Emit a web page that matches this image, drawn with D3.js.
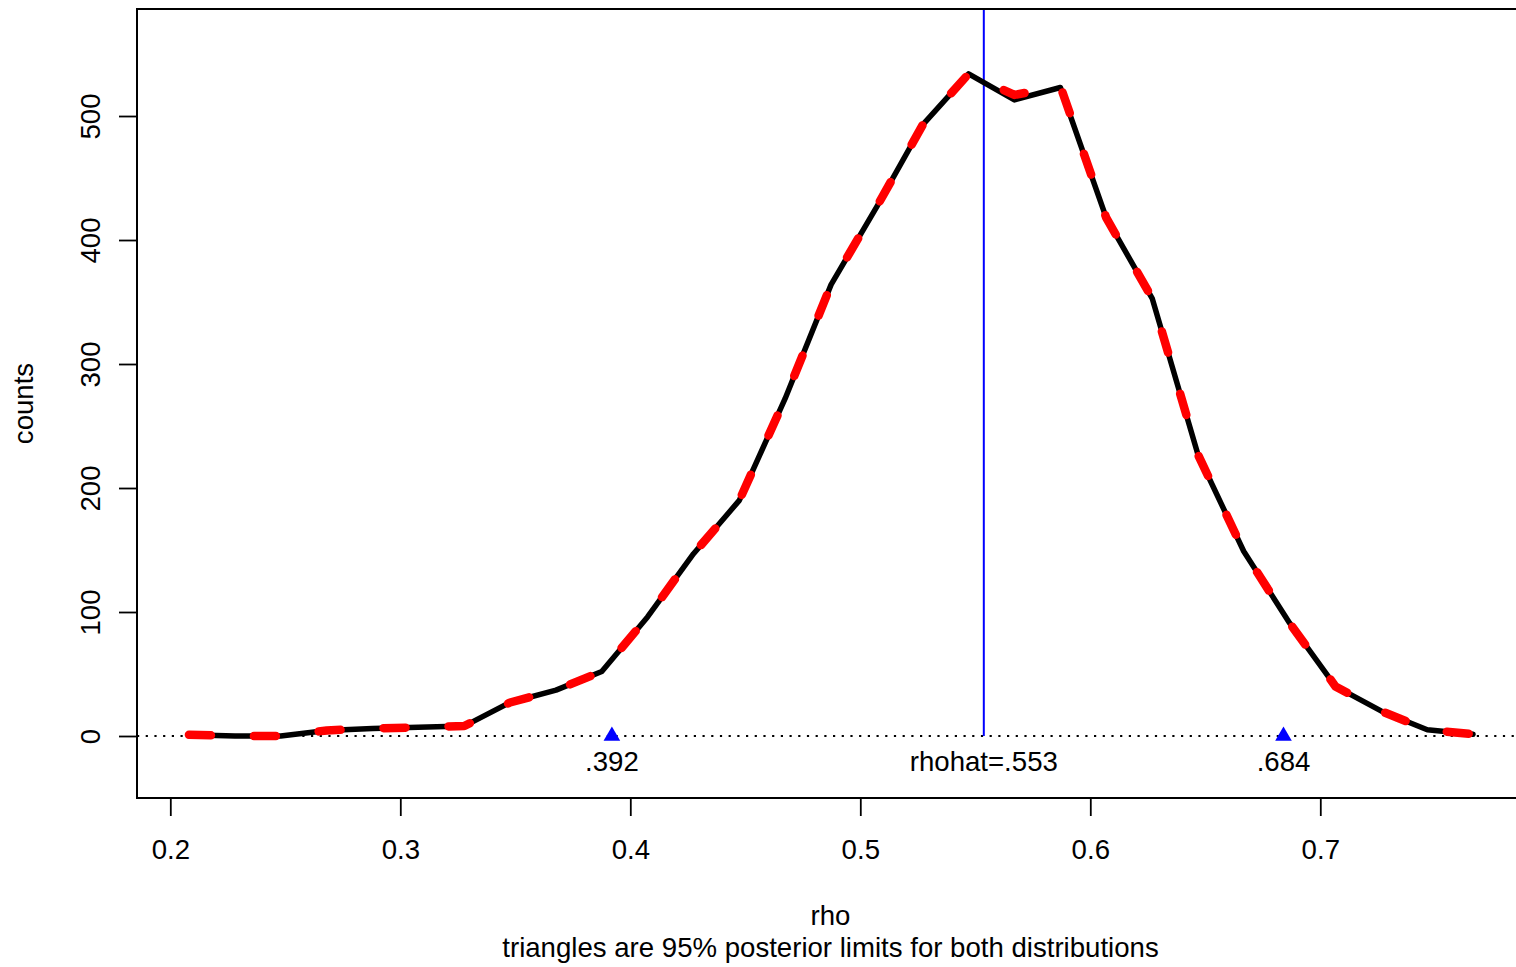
<!DOCTYPE html>
<html>
<head>
  <title>Posterior of rho</title>
  <script src="https://cdn.jsdelivr.net/npm/d3@7/dist/d3.min.js"></script>
  <style>
    body { margin: 0; background: #fff; }
    svg text {
      font-family: "Liberation Sans", Arial, Helvetica, sans-serif;
      font-size: 27.6px;
      fill: #000;
    }
  </style>
</head>
<body>
  <div id="chart"></div>

  <script>
    // bin midpoints of rho
    const rho = [0.2081, 0.2281, 0.2480, 0.2680, 0.2879, 0.3078, 0.3278, 0.3477, 0.3677, 0.3876,
                 0.4075, 0.4275, 0.4474, 0.4673, 0.4873, 0.5072, 0.5272, 0.5471, 0.5670, 0.5870,
                 0.6069, 0.6269, 0.6468, 0.6667, 0.6867, 0.7066, 0.7266, 0.7465, 0.7664];
    // counts, first distribution (solid black)
    const counts1 = [1, 0, 0, 4.5, 6, 7, 8, 27, 37, 52,
                     96, 147, 190, 272, 364, 427, 493, 534, 513, 523,
                     418, 353, 227, 149, 91, 40, 20, 5, 1.5];
    // counts, second distribution (red dashed)
    const counts2 = [1, 0, 0, 4.5, 6, 7, 8, 27, 37, 52,
                     96, 147, 190, 272, 364, 427, 493, 534, 517, 524,
                     418, 353, 227, 149, 91, 40, 20, 5, 1.5];

    const xTicks = [0.2, 0.3, 0.4, 0.5, 0.6, 0.7];
    const yTicks = [0, 100, 200, 300, 400, 500];

    // 95% limits and the estimate
    const limits = [0.392, 0.684];
    const limitLabels = ['.392', '.684'];
    const rhohat = 0.5537;
    const rhohatLabel = 'rhohat=.553';

    const width = 1516;
    const height = 967;
    const box = { left: 137, right: 1524, top: 9, bottom: 798 };

    const svg = d3.select('#chart')
      .append('svg')
      .attr('width', width)
      .attr('height', height);

    const x = d3.scaleLinear()
      .domain([0.18552, 0.78857])
      .range([box.left, box.right]);

    const y = d3.scaleLinear()
      .domain([-50, 586.3])
      .range([box.bottom, box.top]);

    // x axis (bottom)
    const xAxis = svg.append('g')
      .attr('transform', `translate(0,${box.bottom})`)
      .call(d3.axisBottom(x).tickValues(xTicks).tickSize(18).tickPadding(0).tickFormat(d3.format('.1f')));
    xAxis.select('.domain').remove();
    xAxis.selectAll('line').attr('stroke', '#000').attr('stroke-width', 1.8);
    xAxis.selectAll('text')
      .attr('y', 60.5)
      .attr('dy', null)
      .style('font-size', '27.6px');

    // y axis (left), labels turned like R
    const yAxis = svg.append('g')
      .attr('transform', `translate(${box.left},0)`)
      .call(d3.axisLeft(y).tickValues(yTicks).tickSize(18).tickFormat(d3.format('d')));
    yAxis.select('.domain').remove();
    yAxis.selectAll('line').attr('stroke', '#000').attr('stroke-width', 1.8);
    yAxis.selectAll('text')
      .attr('x', null)
      .attr('dy', null)
      .attr('text-anchor', 'middle')
      .attr('transform', 'translate(-37,0) rotate(-90)')
      .style('font-size', '27.6px');

    // dotted zero line
    svg.append('line')
      .attr('x1', box.left)
      .attr('x2', box.right)
      .attr('y1', y(0))
      .attr('y2', y(0))
      .attr('stroke', '#000')
      .attr('stroke-width', 2)
      .attr('stroke-dasharray', '2.2,6.5');

    // rhohat line
    svg.append('line')
      .attr('x1', x(rhohat))
      .attr('x2', x(rhohat))
      .attr('y1', box.top)
      .attr('y2', y(0))
      .attr('stroke', '#0000ff')
      .attr('stroke-width', 2);

    const line = d3.line()
      .x(d => x(d[0]))
      .y(d => y(d[1]));

    svg.append('path')
      .datum(d3.zip(rho, counts1))
      .attr('d', line)
      .attr('fill', 'none')
      .attr('stroke', '#000')
      .attr('stroke-width', 5.5)
      .attr('stroke-linejoin', 'round')
      .attr('stroke-linecap', 'round');

    svg.append('path')
      .datum(d3.zip(rho, counts2))
      .attr('d', line)
      .attr('fill', 'none')
      .attr('stroke', '#ff0000')
      .attr('stroke-width', 8.5)
      .attr('stroke-dasharray', '22,43')
      .attr('stroke-linejoin', 'round')
      .attr('stroke-linecap', 'round');

    // triangles at the posterior limits
    svg.selectAll('.tri')
      .data(limits)
      .enter()
      .append('path')
      .attr('class', 'tri')
      .attr('d', d3.symbol().type(d3.symbolTriangle).size(120))
      .attr('transform', d => `translate(${x(d)},${y(0)})`)
      .attr('fill', '#0000ff');

    svg.selectAll('.limlab')
      .data(limits)
      .enter()
      .append('text')
      .attr('class', 'limlab')
      .attr('x', d => x(d))
      .attr('y', 771)
      .attr('text-anchor', 'middle')
      .text((d, i) => limitLabels[i]);

    svg.append('text')
      .attr('x', x(rhohat))
      .attr('y', 771)
      .attr('text-anchor', 'middle')
      .text(rhohatLabel);

    // plot frame
    svg.append('rect')
      .attr('x', box.left)
      .attr('y', box.top)
      .attr('width', box.right - box.left)
      .attr('height', box.bottom - box.top)
      .attr('fill', 'none')
      .attr('stroke', '#000')
      .attr('stroke-width', 2);

    // axis titles
    const midX = (box.left + box.right) / 2;
    svg.append('text')
      .attr('x', midX)
      .attr('y', 925)
      .attr('text-anchor', 'middle')
      .text('rho');

    svg.append('text')
      .attr('x', midX)
      .attr('y', 957)
      .attr('text-anchor', 'middle')
      .text('triangles are 95% posterior limits for both distributions');

    svg.append('text')
      .attr('transform', `translate(33,${(box.top + box.bottom) / 2}) rotate(-90)`)
      .attr('text-anchor', 'middle')
      .text('counts');
  </script>
</body>
</html>
